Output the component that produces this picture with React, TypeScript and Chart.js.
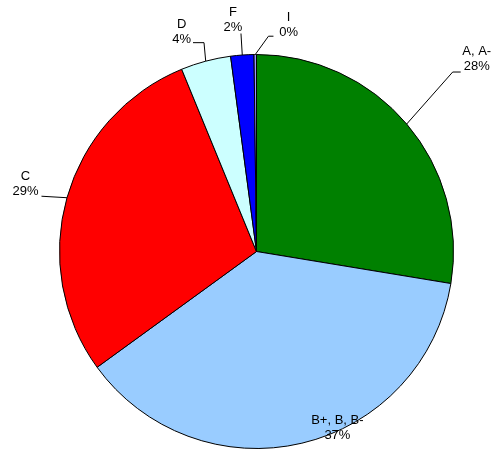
import React, { useEffect, useRef } from "react";
import { Chart, registerables } from "chart.js";

Chart.register(...registerables);

// Grade categories and their share of students (percent)
const categories = ["A, A-", "B+, B, B-", "C", "D", "F", "I"];
const shares = [27.6, 37.4, 28.8, 4.1, 1.9, 0.2];
const sliceColors = ["#008000", "#99CCFF", "#FF0000", "#CCFFFF", "#0000FF", "#9999FF"];

// Label placement relative to the slice's outer-edge midpoint:
// text centre offset, then the leader polyline points (empty = no leader).
const labelOffsets: [number, number][] = [
  [70, -65],
  [35.5, -15],
  [-41.5, -13.5],
  [-24, -29.5],
  [-9.3, -35],
  [33.4, -30],
];
const leaderPaths: [number, number][][] = [
  [[46, -52], [54, -52]],
  [],
  [[-25.5, -1.5]],
  [[-1.7, -18.5], [-12.7, -18.5]],
  [[-1.3, -21.5]],
  [[13.2, -18.3], [18.2, -18.3]],
];

const FONT = "13px 'Liberation Sans', Arial, sans-serif";
const LINE_H = 15;

const pieLabels = {
  id: "pieLabels",
  afterDatasetsDraw(chart: any) {
    const ctx = chart.ctx as CanvasRenderingContext2D;
    const meta = chart.getDatasetMeta(0);
    const values = chart.data.datasets[0].data as number[];
    const total = values.reduce((a, b) => a + b, 0);
    ctx.save();
    ctx.font = FONT;
    ctx.fillStyle = "#000";
    ctx.strokeStyle = "#000";
    ctx.lineWidth = 1;
    ctx.textAlign = "center";
    ctx.textBaseline = "middle";
    meta.data.forEach((arc: any, i: number) => {
      const mid = (arc.startAngle + arc.endAngle) / 2;
      const ex = arc.x + Math.cos(mid) * arc.outerRadius;
      const ey = arc.y + Math.sin(mid) * arc.outerRadius;
      const path = leaderPaths[i];
      if (path.length) {
        ctx.beginPath();
        ctx.moveTo(ex, ey);
        path.forEach(([dx, dy]) => ctx.lineTo(ex + dx, ey + dy));
        ctx.stroke();
      }
      const [ox, oy] = labelOffsets[i];
      const pct = Math.round((values[i] / total) * 100) + "%";
      ctx.fillText(categories[i], ex + ox, ey + oy - LINE_H / 2);
      ctx.fillText(pct, ex + ox, ey + oy + LINE_H / 2);
    });
    ctx.restore();
  },
};

export default function App() {
  const canvasRef = useRef<HTMLCanvasElement | null>(null);

  useEffect(() => {
    const canvas = canvasRef.current;
    if (!canvas) return;
    const chart = new Chart(canvas, {
      type: "pie",
      data: {
        labels: categories,
        datasets: [
          {
            data: shares,
            backgroundColor: sliceColors,
            borderColor: "#000",
            borderWidth: 1,
          },
        ],
      },
      options: {
        responsive: false,
        devicePixelRatio: 1,
        animation: false,
        layout: { padding: { left: 59, right: 41, top: 54, bottom: 0 } },
        plugins: {
          legend: { display: false },
          tooltip: { enabled: false },
        },
      },
      plugins: [pieLabels],
    });
    return () => chart.destroy();
  }, []);

  return (
    <div style={{ position: "fixed", left: 0, top: 0, width: 495, height: 449, background: "#fff" }}>
      <canvas ref={canvasRef} width={495} height={449} style={{ display: "block" }} />
    </div>
  );
}
